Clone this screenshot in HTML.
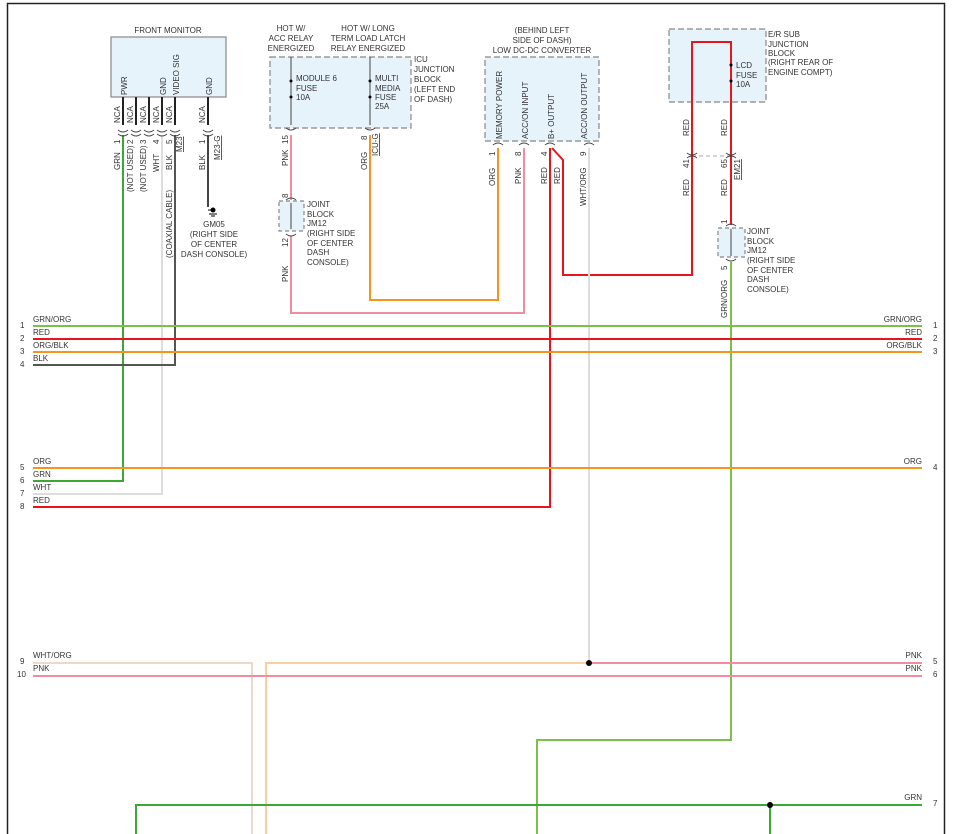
<!DOCTYPE html>
<html><head><meta charset="utf-8"><style>
html,body{margin:0;padding:0;background:#fff}
svg{display:block}
text{font-family:"Liberation Sans",sans-serif;font-size:8px;fill:#333}
</style></head><body>
<svg width="953" height="834" viewBox="0 0 953 834" xmlns="http://www.w3.org/2000/svg">
<rect x="7.5" y="3.5" width="937" height="840" fill="none" stroke="#222" stroke-width="1.5"/>

<rect x="111" y="37" width="115" height="60" fill="#e6f3fb" stroke="#888" stroke-width="1.2"/>
<rect x="270" y="57" width="141" height="71" fill="#e6f3fb" stroke="#888" stroke-width="1.2" stroke-dasharray="6,3"/>
<rect x="485" y="57" width="114" height="84" fill="#e6f3fb" stroke="#888" stroke-width="1.2" stroke-dasharray="6,3"/>
<rect x="669" y="29" width="97" height="73" fill="#e6f3fb" stroke="#888" stroke-width="1.2" stroke-dasharray="6,3"/>
<rect x="279" y="201" width="25" height="30" fill="#e6f3fb" stroke="#888" stroke-width="1.2" stroke-dasharray="4,3"/>
<rect x="718" y="228" width="27" height="29" fill="#e6f3fb" stroke="#888" stroke-width="1.2" stroke-dasharray="4,3"/>
<line x1="692" y1="156" x2="731" y2="156" stroke="#aaa" stroke-dasharray="4,3"/>

<text x="168" y="33" text-anchor="middle">FRONT MONITOR</text>
<text x="291" y="31" text-anchor="middle">HOT W/</text>
<text x="291" y="41" text-anchor="middle">ACC RELAY</text>
<text x="291" y="51" text-anchor="middle">ENERGIZED</text>
<text x="368" y="31" text-anchor="middle">HOT W/ LONG</text>
<text x="368" y="41" text-anchor="middle">TERM LOAD LATCH</text>
<text x="368" y="51" text-anchor="middle">RELAY ENERGIZED</text>
<text x="414" y="62">ICU</text><text x="414" y="72">JUNCTION</text><text x="414" y="82">BLOCK</text><text x="414" y="92">(LEFT END</text><text x="414" y="102">OF DASH)</text>
<text x="296" y="81">MODULE 6</text><text x="296" y="91">FUSE</text><text x="296" y="100">10A</text>
<text x="375" y="81">MULTI</text><text x="375" y="91">MEDIA</text><text x="375" y="100">FUSE</text><text x="375" y="109">25A</text>
<text x="542" y="33" text-anchor="middle">(BEHIND LEFT</text>
<text x="542" y="43" text-anchor="middle">SIDE OF DASH)</text>
<text x="542" y="53" text-anchor="middle">LOW DC-DC CONVERTER</text>
<text x="768" y="37">E/R SUB</text><text x="768" y="47">JUNCTION</text><text x="768" y="56">BLOCK</text><text x="768" y="65">(RIGHT REAR OF</text><text x="768" y="75">ENGINE COMPT)</text>
<text x="736" y="68">LCD</text><text x="736" y="78">FUSE</text><text x="736" y="87">10A</text>
<text x="307" y="207">JOINT</text><text x="307" y="217">BLOCK</text><text x="307" y="226">JM12</text><text x="307" y="236">(RIGHT SIDE</text><text x="307" y="246">OF CENTER</text><text x="307" y="255">DASH</text><text x="307" y="265">CONSOLE)</text>
<text x="747" y="234">JOINT</text><text x="747" y="244">BLOCK</text><text x="747" y="253">JM12</text><text x="747" y="263">(RIGHT SIDE</text><text x="747" y="273">OF CENTER</text><text x="747" y="282">DASH</text><text x="747" y="292">CONSOLE)</text>
<text x="214" y="227" text-anchor="middle">GM05</text>
<text x="214" y="237" text-anchor="middle">(RIGHT SIDE</text>
<text x="214" y="247" text-anchor="middle">OF CENTER</text>
<text x="214" y="257" text-anchor="middle">DASH CONSOLE)</text>

<g>
<text transform="translate(127,95) rotate(-90)">PWR</text>
<text transform="translate(166,95) rotate(-90)">GND</text>
<text transform="translate(179,95) rotate(-90)">VIDEO SIG</text>
<text transform="translate(212,95) rotate(-90)">GND</text>
<text transform="translate(502,139) rotate(-90)">MEMORY POWER</text>
<text transform="translate(528,139) rotate(-90)">ACC/ON INPUT</text>
<text transform="translate(554,139) rotate(-90)">B+ OUTPUT</text>
<text transform="translate(587,139) rotate(-90)">ACC/ON OUTPUT</text>
</g>

<g fill="none" stroke-width="2">
<line x1="123" y1="97" x2="123" y2="125" stroke="#222"/>
<line x1="136" y1="97" x2="136" y2="125" stroke="#222"/>
<line x1="149" y1="97" x2="149" y2="125" stroke="#222"/>
<line x1="162" y1="97" x2="162" y2="125" stroke="#222"/>
<line x1="175" y1="97" x2="175" y2="125" stroke="#222"/>
<line x1="208" y1="97" x2="208" y2="125" stroke="#222"/>
<line x1="208" y1="135" x2="208" y2="207" stroke="#444"/>
<polyline points="123,135 123,481 33,481" stroke="#3aa832"/>
<polyline points="162,135 162,494 33,494" stroke="#ddd"/>
<polyline points="175,135 175,365 33,365" stroke="#555"/>
<line x1="291" y1="57" x2="291" y2="125" stroke="#444" stroke-width="1"/>
<line x1="370" y1="57" x2="370" y2="125" stroke="#444" stroke-width="1"/>
<polyline points="291,135 291,200" stroke="#f48ca0"/>
<line x1="291" y1="203" x2="291" y2="229" stroke="#444" stroke-width="1"/>
<polyline points="291,236 291,313 524,313 524,148" stroke="#f48ca0"/>
<polyline points="370,135 370,300 498,300 498,148" stroke="#f7941d"/>
<polyline points="550,148 550,507 33,507" stroke="#e8151b"/>
<polyline points="552,148 563,160 563,275 692,275 692,42 731,42 731,225" stroke="#e8151b"/>
<line x1="731" y1="229" x2="731" y2="256" stroke="#444" stroke-width="1"/>
<polyline points="731,262 731,740 537,740 537,834" stroke="#7cc04a"/>
<line x1="589" y1="148" x2="589" y2="663" stroke="#ddd"/>

<line x1="33" y1="326" x2="922" y2="326" stroke="#7cc04a"/>
<line x1="33" y1="339" x2="922" y2="339" stroke="#e8151b"/>
<line x1="33" y1="352" x2="922" y2="352" stroke="#f7941d"/>
<line x1="33" y1="468" x2="922" y2="468" stroke="#f7941d"/>
<polyline points="33,663 252,663 252,834" stroke="#eed8c8"/>
<polyline points="266,834 266,663 589,663" stroke="#f9cf9f"/>
<line x1="592" y1="663" x2="922" y2="663" stroke="#f48ca0"/>
<line x1="33" y1="676" x2="922" y2="676" stroke="#f48ca0"/>
<polyline points="136,834 136,805 922,805" stroke="#3aa832"/>
<line x1="770" y1="805" x2="770" y2="834" stroke="#3aa832"/>
</g>
<circle cx="589" cy="663" r="3" fill="#000"/>
<circle cx="770" cy="805" r="3" fill="#000"/>
<circle cx="213" cy="210" r="2.5" fill="#000"/>
<line x1="208" y1="210" x2="213" y2="210" stroke="#000"/>
<line x1="209" y1="214" x2="217" y2="214" stroke="#000"/>
<line x1="211" y1="216" x2="215" y2="216" stroke="#000"/>
<g fill="#000"><circle cx="291" cy="81" r="1.5"/><circle cx="291" cy="97" r="1.5"/><circle cx="370" cy="81" r="1.5"/><circle cx="370" cy="97" r="1.5"/><circle cx="731" cy="65" r="1.5"/><circle cx="731" cy="81" r="1.5"/></g>
<g fill="none" stroke="#444" stroke-width="1">
<path d="M118,130 q5,4 10,0 M118,134 q5,4 10,0"/>
<path d="M131,130 q5,4 10,0 M131,134 q5,4 10,0"/>
<path d="M144,130 q5,4 10,0 M144,134 q5,4 10,0"/>
<path d="M157,130 q5,4 10,0 M157,134 q5,4 10,0"/>
<path d="M170,130 q5,4 10,0 M170,134 q5,4 10,0"/>
<path d="M203,130 q5,4 10,0 M203,134 q5,4 10,0"/>
<path d="M286,128 q5,4 10,0"/><path d="M365,128 q5,4 10,0"/>
<path d="M493,145 q5,-4 10,0"/><path d="M519,145 q5,-4 10,0"/><path d="M545,145 q5,-4 10,0"/><path d="M584,145 q5,-4 10,0"/>
<path d="M687,153 q5,4 10,0 M687,158 q5,-4 10,0"/><path d="M726,153 q5,4 10,0 M726,158 q5,-4 10,0"/>
<path d="M286,200 q5,-4 10,0 M286,234 q5,4 10,0"/>
<path d="M726,226 q5,-4 10,0 M726,259 q5,4 10,0"/>
</g>

<g>
<text transform="translate(120,123) rotate(-90)">NCA</text>
<text transform="translate(133,123) rotate(-90)">NCA</text>
<text transform="translate(146,123) rotate(-90)">NCA</text>
<text transform="translate(159,123) rotate(-90)">NCA</text>
<text transform="translate(172,123) rotate(-90)">NCA</text>
<text transform="translate(205,123) rotate(-90)">NCA</text>
<text transform="translate(120,144) rotate(-90)">1</text>
<text transform="translate(133,144) rotate(-90)">2</text>
<text transform="translate(146,144) rotate(-90)">3</text>
<text transform="translate(159,144) rotate(-90)">4</text>
<text transform="translate(172,144) rotate(-90)">5</text>
<text transform="translate(205,144) rotate(-90)">1</text>
<text transform="translate(182,152) rotate(-90)" text-decoration="underline">M23</text>
<text transform="translate(220,160) rotate(-90)" text-decoration="underline">M23-G</text>
<text transform="translate(120,170) rotate(-90)">GRN</text>
<text transform="translate(133,192) rotate(-90)">(NOT USED)</text>
<text transform="translate(146,192) rotate(-90)">(NOT USED)</text>
<text transform="translate(159,172) rotate(-90)">WHT</text>
<text transform="translate(172,170) rotate(-90)">BLK</text>
<text transform="translate(205,170) rotate(-90)">BLK</text>
<text transform="translate(172,258) rotate(-90)">(COAXIAL CABLE)</text>
<text transform="translate(288,144) rotate(-90)">15</text>
<text transform="translate(288,166) rotate(-90)">PNK</text>
<text transform="translate(288,198) rotate(-90)">8</text>
<text transform="translate(288,247) rotate(-90)">12</text>
<text transform="translate(288,282) rotate(-90)">PNK</text>
<text transform="translate(367,140) rotate(-90)">8</text>
<text transform="translate(367,170) rotate(-90)">ORG</text>
<text transform="translate(378,156) rotate(-90)" text-decoration="underline">ICU-G</text>
<text transform="translate(495,156) rotate(-90)">1</text>
<text transform="translate(521,156) rotate(-90)">8</text>
<text transform="translate(547,156) rotate(-90)">4</text>
<text transform="translate(586,156) rotate(-90)">9</text>
<text transform="translate(495,186) rotate(-90)">ORG</text>
<text transform="translate(521,184) rotate(-90)">PNK</text>
<text transform="translate(547,184) rotate(-90)">RED</text>
<text transform="translate(560,184) rotate(-90)">RED</text>
<text transform="translate(586,206) rotate(-90)">WHT/ORG</text>
<text transform="translate(689,136) rotate(-90)">RED</text>
<text transform="translate(727,136) rotate(-90)">RED</text>
<text transform="translate(689,168) rotate(-90)">41</text>
<text transform="translate(727,168) rotate(-90)">65</text>
<text transform="translate(689,196) rotate(-90)">RED</text>
<text transform="translate(727,196) rotate(-90)">RED</text>
<text transform="translate(740,180) rotate(-90)" text-decoration="underline">EM21</text>
<text transform="translate(727,224) rotate(-90)">1</text>
<text transform="translate(727,270) rotate(-90)">5</text>
<text transform="translate(727,318) rotate(-90)">GRN/ORG</text>
</g>

<g>
<text x="33" y="322">GRN/ORG</text><text x="33" y="335">RED</text><text x="33" y="348">ORG/BLK</text><text x="33" y="361">BLK</text>
<text x="33" y="464">ORG</text><text x="33" y="477">GRN</text><text x="33" y="490">WHT</text><text x="33" y="503">RED</text>
<text x="33" y="658">WHT/ORG</text><text x="33" y="671">PNK</text>
<text x="20" y="328">1</text><text x="20" y="341">2</text><text x="20" y="354">3</text><text x="20" y="367">4</text>
<text x="20" y="470">5</text><text x="20" y="483">6</text><text x="20" y="496">7</text><text x="20" y="509">8</text>
<text x="20" y="664">9</text><text x="17" y="677">10</text>
</g>
<g text-anchor="end">
<text x="922" y="322">GRN/ORG</text><text x="922" y="335">RED</text><text x="922" y="348">ORG/BLK</text>
<text x="922" y="464">ORG</text>
<text x="922" y="658">PNK</text><text x="922" y="671">PNK</text>
<text x="922" y="800">GRN</text>
</g>
<g>
<text x="933" y="328">1</text><text x="933" y="341">2</text><text x="933" y="354">3</text><text x="933" y="470">4</text>
<text x="933" y="664">5</text><text x="933" y="677">6</text><text x="933" y="806">7</text>
</g>
</svg>
</body></html>
